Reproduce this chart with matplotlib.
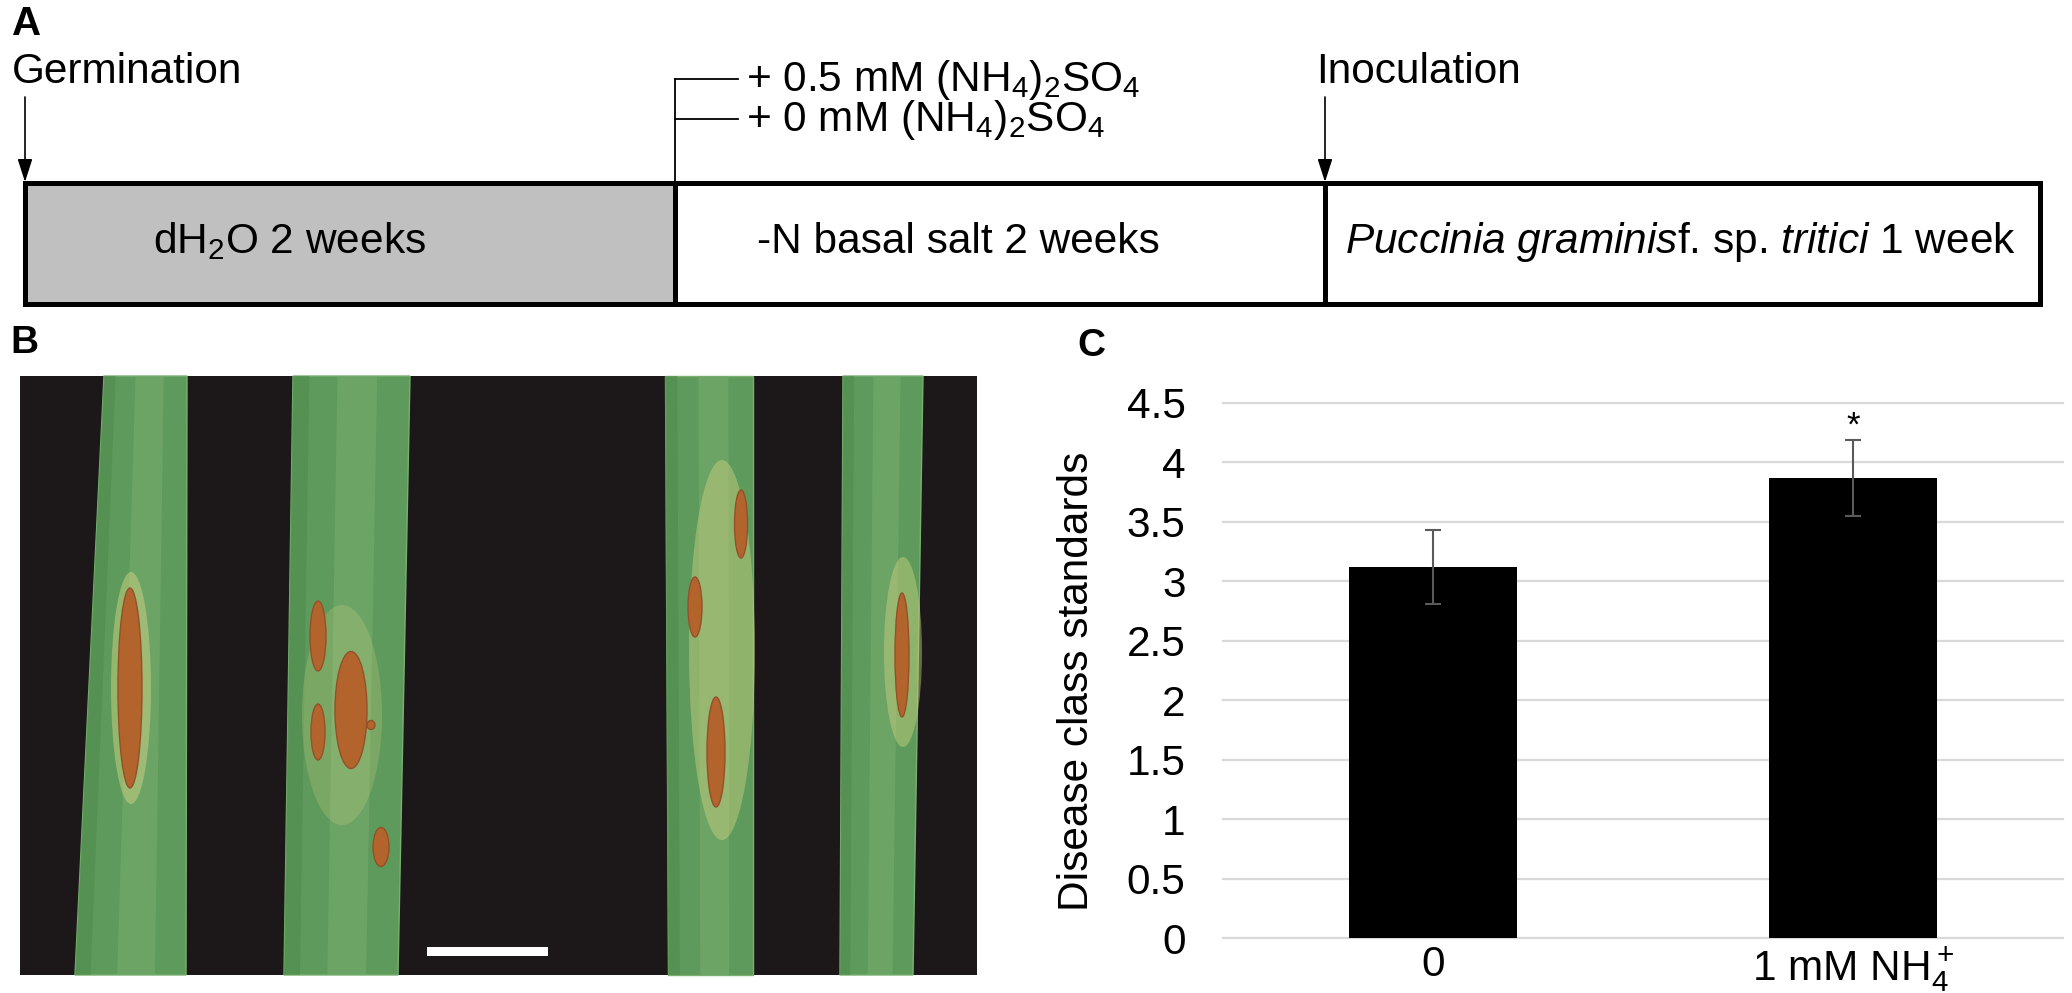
import numpy as np
import matplotlib

matplotlib.use("Agg")
import matplotlib.pyplot as plt
from matplotlib.patches import Rectangle, Polygon, Ellipse, FancyArrowPatch

plt.rcParams["font.family"] = ["Liberation Sans", "DejaVu Sans"]
plt.rcParams["mathtext.fontset"] = "custom"
plt.rcParams["mathtext.rm"] = "Liberation Sans"
plt.rcParams["mathtext.it"] = "Liberation Sans:italic"

# ---- panel A: experiment timeline ----
stage_labels = [
    r"dH$_2$O 2 weeks",
    "-N basal salt 2 weeks",
    r"$\mathit{Puccinia\ graminis}$f. sp. $\mathit{tritici}$ 1 week",
]
event_labels = ["Germination", "Inoculation"]
treatment_labels = [r"+ 0.5 mM (NH$_4$)$_2$SO$_4$", r"+ 0 mM (NH$_4$)$_2$SO$_4$"]

# ---- panel C: disease score ----
conditions = ["0", r"1 mM NH$_4^+$"]
disease_class = [3.12, 3.87]
disease_sd = [0.31, 0.32]
significance = ["", "*"]
y_ticks = [0, 0.5, 1, 1.5, 2, 2.5, 3, 3.5, 4, 4.5]
y_tick_labels = ["0", "0.5", "1", "1.5", "2", "2.5", "3", "3.5", "4", "4.5"]

W, H = 2072, 993
TEXT_SIZE = 30.5

fig = plt.figure(figsize=(W / 100, H / 100), dpi=100)
canvas = fig.add_axes([0, 0, 1, 1])
canvas.set_xlim(0, W)
canvas.set_ylim(H, 0)
canvas.axis("off")

# panel letters
canvas.text(12, 5, "A", fontsize=29, fontweight="bold", va="top", ha="left")
canvas.text(10, 325, "B", fontsize=28, fontweight="bold", va="top", ha="left")
canvas.text(1077, 328, "C", fontsize=28, fontweight="bold", va="top", ha="left")

# timeline box
box_top, box_bottom = 183, 304
edges = [25, 675, 1325, 2040]
canvas.add_patch(Rectangle((edges[0], box_top), edges[1] - edges[0], box_bottom - box_top,
                           facecolor="#c0c0c0", edgecolor="none"))
canvas.add_patch(Rectangle((edges[0], box_top), edges[-1] - edges[0], box_bottom - box_top,
                           facecolor="none", edgecolor="black", linewidth=3.6))
for xe in edges[1:-1]:
    canvas.plot([xe, xe], [box_top, box_bottom], color="black", lw=3.6)

text_left = [153, 757, 1345]
for label, xl in zip(stage_labels, text_left):
    canvas.text(xl, 253, label, fontsize=TEXT_SIZE, va="baseline", ha="left")

# germination / inoculation arrows
for label, xa, xt in zip(event_labels, [edges[0], edges[2]], [12, 1316]):
    canvas.text(xt, 83, label, fontsize=TEXT_SIZE, va="baseline", ha="left")
    arrow = FancyArrowPatch((xa, 97), (xa, box_top - 1),
                            arrowstyle="-|>,head_length=1.4,head_width=0.45",
                            mutation_scale=10, color="black", lw=1.2,
                            shrinkA=0, shrinkB=0)
    canvas.add_patch(arrow)

# treatment bracket
tick_y = [79, 119]
canvas.plot([edges[1], edges[1]], [tick_y[0], box_top], color="black", lw=1.3)
for label, ty in zip(treatment_labels, tick_y):
    canvas.plot([edges[1], 738], [ty, ty], color="black", lw=1.3)
    canvas.text(746, ty + 12, label, fontsize=TEXT_SIZE, va="baseline", ha="left")

# ---- panel B: photo of infected leaves (drawn) ----
photo = Rectangle((20, 376), 957, 599, facecolor="#1c1819", edgecolor="none")
canvas.add_patch(photo)

leaves = [
    [(104, 376), (187, 376), (186, 975), (75, 975)],
    [(293, 376), (410, 376), (398, 975), (284, 975)],
    [(665, 376), (753, 376), (753, 975), (668, 975)],
    [(843, 376), (923, 376), (913, 975), (840, 975)],
]
for pts in leaves:
    leaf = Polygon(pts, closed=True, facecolor="#5e9a5b", edgecolor="#78b16f", lw=1.0)
    canvas.add_patch(leaf)
    (x0, y0), (x1, _), (x2, y2), (x3, _) = pts
    wt, wb = x1 - x0, x2 - x3
    stripe = [(x0 + 0.38 * wt, y0), (x0 + 0.72 * wt, y0), (x3 + 0.72 * wb, y2), (x3 + 0.38 * wb, y2)]
    canvas.add_patch(Polygon(stripe, closed=True, facecolor="#72a96b", edgecolor="none", alpha=0.7))
    edge = [(x0, y0), (x0 + 0.14 * wt, y0), (x3 + 0.14 * wb, y2), (x3, y2)]
    canvas.add_patch(Polygon(edge, closed=True, facecolor="#4f8b4d", edgecolor="none", alpha=0.6))

halos = [
    (131, 688, 40, 232, 0.5),
    (342, 715, 80, 220, 0.25),
    (722, 650, 66, 380, 0.45),
    (903, 652, 38, 190, 0.45),
]
for cx, cy, w, h, a in halos:
    canvas.add_patch(Ellipse((cx, cy), w, h, facecolor="#cfd282", edgecolor="none", alpha=a))

lesions = [
    (130, 688, 24, 200),
    (318, 636, 16, 70),
    (318, 732, 14, 56),
    (351, 710, 32, 117),
    (381, 847, 16, 39),
    (371, 725, 8, 9),
    (741, 524, 13, 68),
    (695, 607, 14, 60),
    (716, 752, 18, 110),
    (902, 655, 14, 124),
]
for cx, cy, w, h in lesions:
    canvas.add_patch(Ellipse((cx, cy), w, h, facecolor="#b3642d", edgecolor="#93512a", lw=1))

canvas.add_patch(Rectangle((427, 947), 121, 9, facecolor="white", edgecolor="none"))

# ---- panel C: bar chart ----
ax = fig.add_axes([1223 / W, 1 - 938 / H, 840 / W, 535 / H])
x = np.arange(len(conditions))
ax.bar(x, disease_class, width=0.4, color="black", zorder=3,
       yerr=disease_sd,
       error_kw=dict(ecolor="#5a5a5a", elinewidth=1.5, capsize=6, capthick=1.5, zorder=4))
for xi, v, e, mark in zip(x, disease_class, disease_sd, significance):
    if mark:
        ax.annotate(mark, (xi, v + e), xytext=(0, -2), textcoords="offset points",
                    ha="center", va="bottom", fontsize=25)

ax.set_xlim(-0.5, 1.5)
ax.set_ylim(0, 4.5)
ax.set_yticks(y_ticks, y_tick_labels)
ax.set_xticks(x, conditions)
ax.grid(axis="y", color="#d9d9d9", lw=1.6)
ax.set_axisbelow(True)
for gl in ax.get_ygridlines():
    gl.set_clip_on(False)
for spine in ax.spines.values():
    spine.set_visible(False)
ax.tick_params(axis="y", length=0, labelsize=TEXT_SIZE, pad=27)
ax.tick_params(axis="x", length=0, labelsize=TEXT_SIZE, pad=5)
ax.set_ylabel("Disease class standards", fontsize=30.5)
ax.yaxis.set_label_coords(-0.15, 0.48)

fig.savefig("out.png", dpi=100)
